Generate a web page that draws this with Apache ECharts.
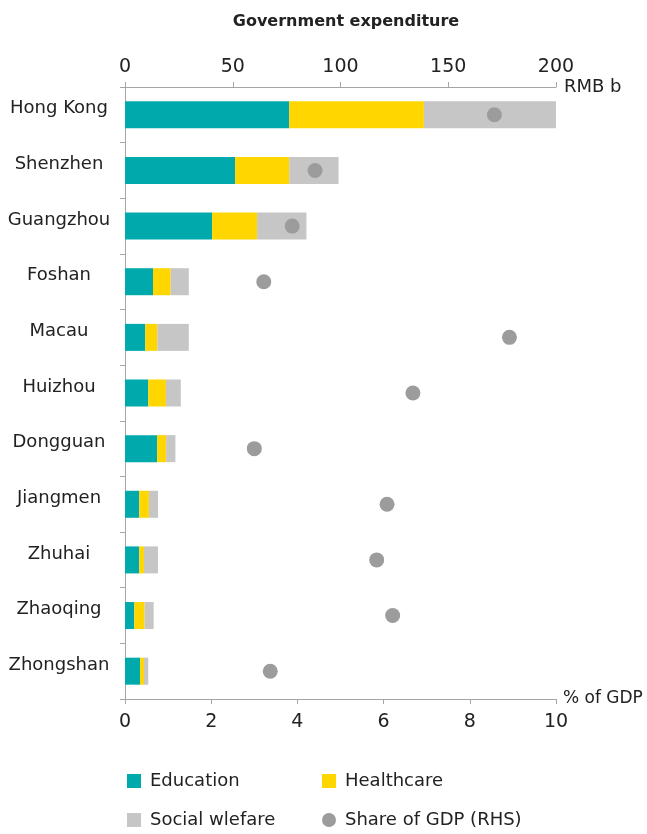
<!DOCTYPE html>
<html>
<head>
<meta charset="utf-8">
<script src="https://cdn.jsdelivr.net/npm/echarts@6/dist/echarts.min.js"></script>
<style>
  html, body { margin: 0; padding: 0; background: #fff; }
  #chart { width: 647px; height: 834px; }
</style>
</head>
<body>
<div id="chart"></div>
<script>
// 城市
var cities = ['Hong Kong', 'Shenzhen', 'Guangzhou', 'Foshan', 'Macau', 'Huizhou',
  'Dongguan', 'Jiangmen', 'Zhuhai', 'Zhaoqing', 'Zhongshan'];

// RMB b
var education = [76.2, 51.1, 40.4, 13.0, 9.4, 10.8, 14.9, 6.6, 6.6, 4.3, 7.0];
var healthcare = [62.5, 25.1, 20.9, 8.2, 5.6, 8.2, 4.2, 4.5, 2.2, 4.8, 1.8];
var welfare = [61.3, 22.9, 22.9, 8.4, 14.6, 6.9, 4.3, 4.2, 6.5, 4.2, 2.0];

// % of GDP
var gdpShare = [8.57, 4.41, 3.88, 3.22, 8.92, 6.68, 3.0, 6.08, 5.84, 6.21, 3.37];

var topTicks = [0, 50, 100, 150, 200];
var bottomTicks = [0, 2, 4, 6, 8, 10];

var font = 'DejaVu Sans';
var axisGray = '#a6a6a6';

var chart = echarts.init(document.getElementById('chart'));

function legendItem(name, left, top, icon) {
  return {
    data: [{ name: name, icon: icon }],
    left: left,
    top: top,
    itemWidth: 14,
    itemHeight: 14,
    itemGap: 0,
    textStyle: { fontFamily: font, fontSize: 18, color: '#222', padding: [0, 0, 0, 4] },
    selectedMode: false
  };
}

var option = {
  animation: false,
  title: {
    text: 'Government expenditure',
    left: 341,
    textAlign: 'center',
    top: 9,
    textStyle: { fontFamily: font, fontSize: 16, fontWeight: 'bold', color: '#222' }
  },
  legend: [
    legendItem('Education', 122, 767, 'rect'),
    legendItem('Healthcare', 317, 767, 'rect'),
    legendItem('Social wlefare', 122, 806, 'rect'),
    legendItem('Share of GDP (RHS)', 317, 806, 'circle')
  ],
  grid: { left: 125, right: 91, top: 87, bottom: 135, outerBoundsMode: 'none', containLabel: false },
  xAxis: [
    {
      type: 'value',
      position: 'top',
      min: topTicks[0],
      max: topTicks[topTicks.length - 1],
      interval: 50,
      name: 'RMB b',
      nameLocation: 'end',
      nameGap: 8,
      nameTextStyle: { fontFamily: font, fontSize: 18, color: '#222', padding: [6, 0, 0, 0] },
      axisLine: { show: true, lineStyle: { color: axisGray } },
      axisTick: { show: true, length: 5, lineStyle: { color: axisGray } },
      axisLabel: { fontFamily: font, fontSize: 19, color: '#222', margin: 10 },
      splitLine: { show: false }
    },
    {
      type: 'value',
      position: 'bottom',
      min: bottomTicks[0],
      max: bottomTicks[bottomTicks.length - 1],
      interval: 2,
      name: '% of GDP',
      nameLocation: 'end',
      nameGap: 7,
      nameTextStyle: { fontFamily: font, fontSize: 17, color: '#222', padding: [0, 0, 4, 0] },
      axisLine: { show: true, lineStyle: { color: axisGray } },
      axisTick: { show: true, length: 5, lineStyle: { color: axisGray } },
      axisLabel: { fontFamily: font, fontSize: 19, color: '#222', margin: 14 },
      splitLine: { show: false }
    }
  ],
  yAxis: {
    type: 'category',
    data: cities,
    inverse: true,
    axisLine: { show: true, lineStyle: { color: axisGray } },
    axisTick: { show: true, length: 5, lineStyle: { color: axisGray } },
    axisLabel: {
      fontFamily: font, fontSize: 18, color: '#222',
      margin: 66, align: 'center', verticalAlign: 'bottom', lineHeight: 12
    }
  },
  series: [
    {
      name: 'Education', type: 'bar', stack: 'exp', xAxisIndex: 0,
      barWidth: 27, itemStyle: { color: '#00a9ac' }, data: education
    },
    {
      name: 'Healthcare', type: 'bar', stack: 'exp', xAxisIndex: 0,
      barWidth: 27, itemStyle: { color: '#ffd600' }, data: healthcare
    },
    {
      name: 'Social wlefare', type: 'bar', stack: 'exp', xAxisIndex: 0,
      barWidth: 27, itemStyle: { color: '#c6c6c6' }, data: welfare
    },
    {
      name: 'Share of GDP (RHS)', type: 'scatter', xAxisIndex: 1,
      symbol: 'circle', symbolSize: 15, z: 5,
      itemStyle: { color: '#9c9c9c', opacity: 1 }, data: gdpShare
    }
  ]
};
chart.setOption(option);

window.addEventListener('resize', function () {
  chart.resize();
});
</script>
</body>
</html>
